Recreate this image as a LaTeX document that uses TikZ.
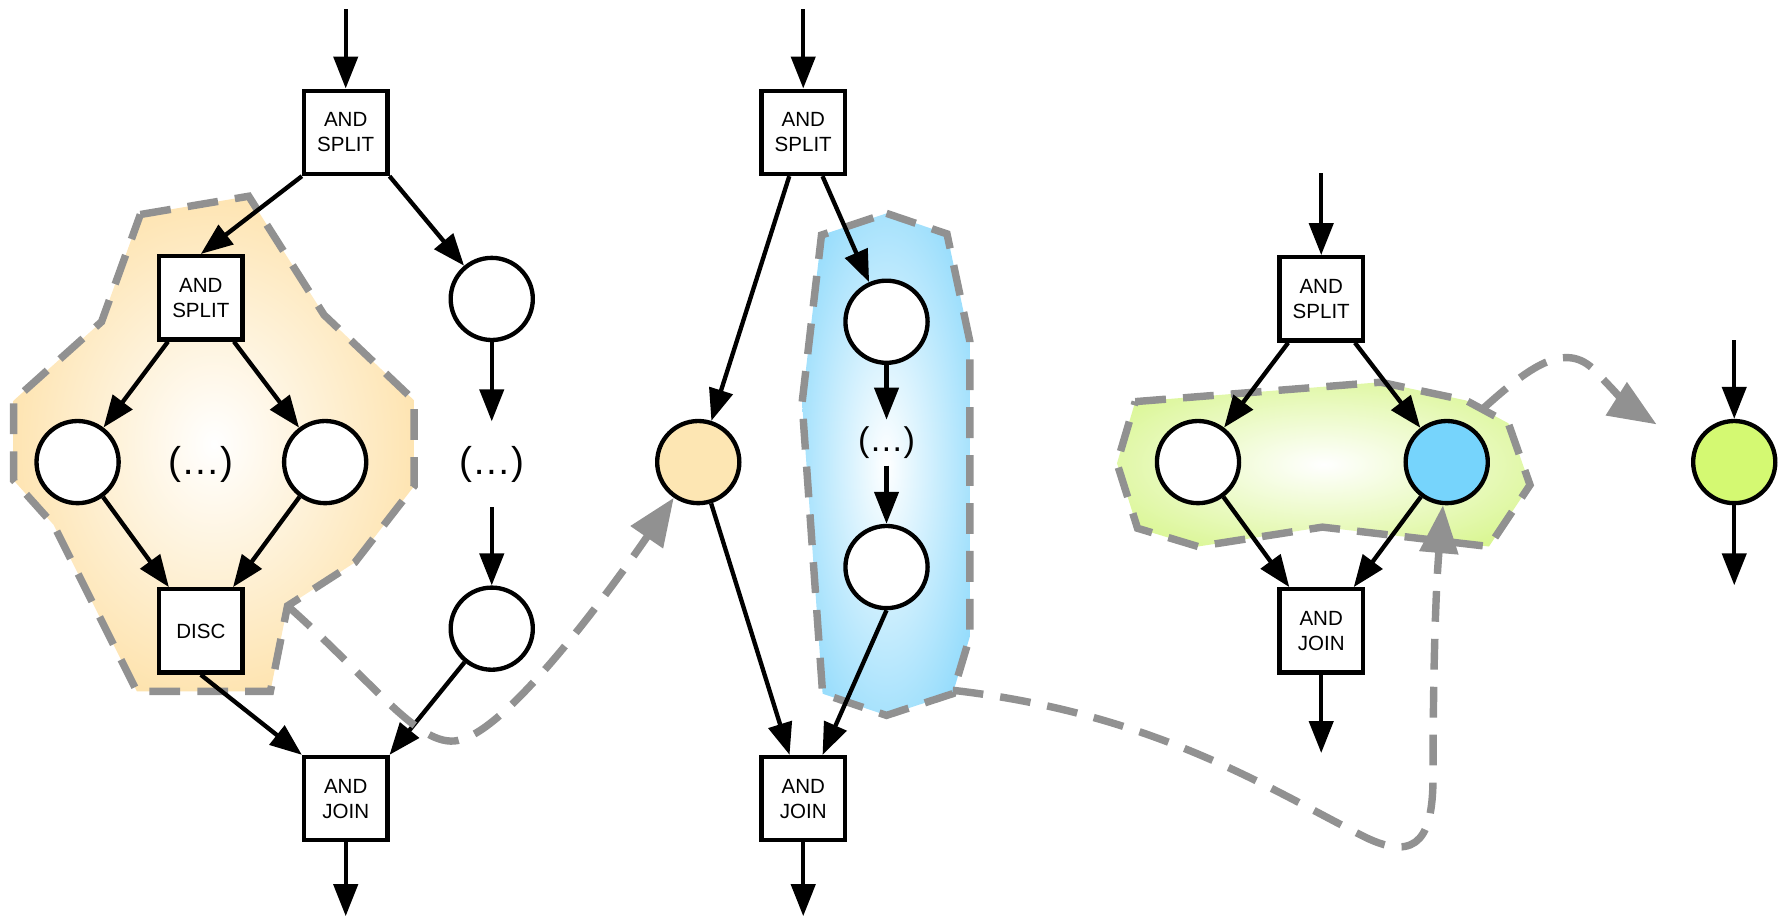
\documentclass[tikz,border=0pt]{standalone}
\usepackage{fontspec}
\setmainfont{Liberation Sans}
\usetikzlibrary{arrows.meta,positioning}

\definecolor{orangezone}{HTML}{FDDC9A}
\definecolor{orangeplace}{HTML}{FDE6B3}
\definecolor{bluezone}{HTML}{7DD4FB}
\definecolor{blueplace}{HTML}{76D4FC}
\definecolor{greenzone}{HTML}{D6F588}
\definecolor{greenplace}{HTML}{D4F972}
\definecolor{hintgray}{HTML}{919191}

\pgfdeclareradialshading{orangeglow}{\pgfpointorigin}{color(0bp)=(white); color(33bp)=(orangezone)}
\pgfdeclareradialshading{blueglow}{\pgfpointorigin}{color(0bp)=(white); color(37bp)=(bluezone)}
\pgfdeclareradialshading{greenglow}{\pgfpointorigin}{color(0bp)=(white); color(34bp)=(greenzone)}

\tikzset{
  andbox/.style={draw, line width=3.8pt, fill=white, minimum width=73pt, minimum height=73pt,
    inner sep=0pt, align=center, font=\fontsize{18}{22}\selectfont},
  place/.style={circle, draw, line width=3.8pt, fill=white, minimum size=72pt, inner sep=0pt},
  dotsnode/.style={inner sep=0pt, font=\fontsize{34}{34}\selectfont},
  flow/.style={line width=3.8pt, -{Triangle[length=28pt,width=21pt]}},
  zone/.style={draw=hintgray, line width=6.5pt, dash pattern=on 27pt off 15pt},
  hint/.style={draw=hintgray, line width=6.5pt, dash pattern=on 27pt off 15pt,
    -{Triangle[length=42pt,width=33pt]}}
}

\begin{document}
\begin{tikzpicture}[x=1pt, y=-1pt]
  \useasboundingbox (0,0) rectangle (1568,806);

  % highlighted zones
  \shadedraw[shading=orangeglow, zone] (123,188) -- (218,172) -- (284,276) -- (363,351)
    -- (363,426) -- (311,493) -- (252,531) -- (237,606) -- (120,606) -- (47,460)
    -- (12,421) -- (12,351) -- (89,282) -- cycle;
  \shadedraw[shading=blueglow, zone] (777,187) -- (830,205) -- (850,299) -- (850,558)
    -- (835,608) -- (777,627) -- (721,608) -- (703,353) -- (720,206) -- cycle;
  \shadedraw[shading=greenglow, zone] (995,352) -- (1210,335) -- (1285,351) -- (1322,371)
    -- (1341,425) -- (1305,479) -- (1159,462) -- (1050,479) -- (997,463) -- (979,406) -- cycle;

  % first net
  \node[andbox] (split1) at (303,116) {AND\\SPLIT};
  \node[andbox] (split2) at (176,261) {AND\\SPLIT};
  \node[place] (left1) at (68,405) {};
  \node[place] (left2) at (285,405) {};
  \node[dotsnode] (ldots) at (176,407) {(…)};
  \node[andbox] (disc) at (176,553) {DISC};
  \node[place] (right1) at (431,262) {};
  \node[dotsnode, minimum height=75pt] (rdots) at (431,407) {(…)};
  \node[place] (right2) at (431,551) {};
  \node[andbox] (join1) at (303,700) {AND\\JOIN};
  \coordinate (in1) at (303,8);
  \coordinate (out1) at (303,803);

  \draw[flow] (in1) -- (split1);
  \draw[flow] (split1.south west) -- (split2.north);
  \draw[flow] (split1.south east) -- (right1);
  \draw[flow] (split2) -- (left1);
  \draw[flow] (split2) -- (left2);
  \draw[flow] (left1) -- (disc);
  \draw[flow] (left2) -- (disc);
  \draw[flow] (disc.south) -- (join1.north west);
  \draw[flow] (right1) -- (rdots);
  \draw[flow] (rdots) -- (right2);
  \draw[flow] (right2) -- (join1.north east);
  \draw[flow] (join1) -- (out1);

  % second net
  \node[andbox] (split3) at (704,116) {AND\\SPLIT};
  \node[place, fill=orangeplace] (oplace) at (612,405) {};
  \node[place] (blue1) at (777,282) {};
  \node[dotsnode, minimum height=40pt, font=\fontsize{30}{30}\selectfont] (bdots) at (777,388) {(…)};
  \node[place] (blue2) at (777,497) {};
  \node[andbox] (join2) at (704,700) {AND\\JOIN};
  \coordinate (in2) at (704,8);
  \coordinate (out2) at (704,803);

  \draw[flow] (in2) -- (split3);
  \draw[flow] (split3) -- (oplace);
  \draw[flow] (split3) -- (blue1);
  \draw[flow] (blue1) -- (bdots);
  \draw[flow] (bdots) -- (blue2);
  \draw[flow] (oplace) -- (join2);
  \draw[flow] (blue2.south) -- (join2);
  \draw[flow] (join2) -- (out2);

  % third net
  \node[andbox] (split4) at (1158,262) {AND\\SPLIT};
  \node[place] (wplace) at (1050,405) {};
  \node[place, fill=blueplace] (cplace) at (1268,405) {};
  \node[andbox] (join3) at (1158,553) {AND\\JOIN};
  \coordinate (in3) at (1158,152);
  \coordinate (out3) at (1158,660);

  \draw[flow] (in3) -- (split4);
  \draw[flow] (split4) -- (wplace);
  \draw[flow] (split4) -- (cplace);
  \draw[flow] (wplace) -- (join3);
  \draw[flow] (cplace) -- (join3);
  \draw[flow] (join3) -- (out3);

  % single place
  \node[place, fill=greenplace] (gplace) at (1520,405) {};
  \coordinate (in4) at (1520,298);
  \coordinate (out4) at (1520,513);
  \draw[flow] (in4) -- (gplace);
  \draw[flow] (gplace) -- (out4);

  % reductions
  \coordinate (orangestart) at (252,531);
  \coordinate (bluestart) at (835,605);
  \coordinate (greenstart) at (1300,358);
  \coordinate (greentip) at (1452,372);
  \draw[hint] (orangestart) .. controls (330,600) and (370,660) .. (405,648)
    .. controls (450,635) and (540,510) .. (oplace);
  \draw[hint] (bluestart) .. controls (1010,625) and (1110,690) .. (1195,733)
    .. controls (1245,758) and (1256,730) .. (1256,680)
    .. controls (1256,600) and (1258,520) .. (cplace);
  \draw[hint] (greenstart) .. controls (1340,322) and (1372,298) .. (1398,325)
    .. controls (1415,343) and (1430,358) .. (greentip);
\end{tikzpicture}
\end{document}
